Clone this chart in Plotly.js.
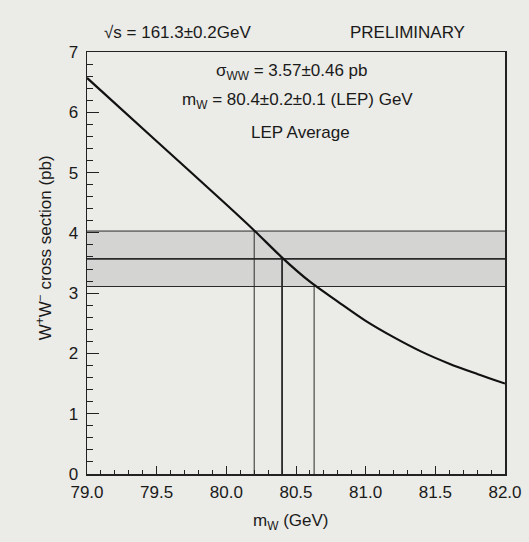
<!DOCTYPE html>
<html>
<head>
<meta charset="utf-8">
<script src="https://cdn.plot.ly/plotly-3.0.1.min.js"></script>
<style>
html,body{margin:0;padding:0;background:#ebebe7;}
#chart{width:529px;height:542px;}
</style>
</head>
<body>
<div id="chart"></div>
<script>
// Cross section vs W mass curve
const massW = [79.0, 79.5, 80.0, 80.2, 80.4, 80.6, 80.8, 81.0, 81.2, 81.4, 81.6, 81.8, 82.0];
const sigmaWW = [6.57, 5.52, 4.47, 4.04, 3.59, 3.19, 2.86, 2.54, 2.27, 2.03, 1.83, 1.66, 1.50];

// Measured cross section and its error
const sigmaMeas = 3.57;
const sigmaErr = 0.46;
const sigmaBand = [sigmaMeas - sigmaErr, sigmaMeas, sigmaMeas + sigmaErr];

// Derived W masses (where the band meets the curve)
const massCross = [80.63, 80.4, 80.2];

// Axis ticks
const xTickVals = [79.0, 79.5, 80.0, 80.5, 81.0, 81.5, 82.0];
const xTickText = ["79.0", "79.5", "80.0", "80.5", "81.0", "81.5", "82.0"];
const yTickVals = [0, 1, 2, 3, 4, 5, 6, 7];

const xRange = [79.0, 82.0];
const yRange = [0, 7];

const traces = [];

// Horizontal band lines
sigmaBand.forEach((s, i) => {
  traces.push({
    x: xRange, y: [s, s], mode: 'lines', type: 'scatter',
    line: {color: '#2a2a2a', width: i === 1 ? 1.8 : 1},
    hoverinfo: 'skip', showlegend: false
  });
});

// Vertical mass lines
massCross.forEach((m, i) => {
  traces.push({
    x: [m, m], y: [0, sigmaBand[i]], mode: 'lines', type: 'scatter',
    line: {color: '#2a2a2a', width: i === 1 ? 1.8 : 1},
    hoverinfo: 'skip', showlegend: false
  });
});

// Curve
traces.push({
  x: massW, y: sigmaWW, mode: 'lines', type: 'scatter',
  line: {color: '#111', width: 2.2, shape: 'spline', smoothing: 0.8},
  showlegend: false
});

const fontFam = 'Liberation Sans, Arial, Helvetica, sans-serif';
const txtColor = '#1a1a1a';

const layout = {
  width: 529, height: 542,
  paper_bgcolor: '#ebebe7',
  plot_bgcolor: '#ebebe7',
  margin: {l: 87, r: 24, t: 52, b: 68},
  font: {family: fontFam, color: txtColor, size: 17},
  showlegend: false,
  xaxis: {
    range: xRange, tickvals: xTickVals, ticktext: xTickText,
    ticks: 'inside', ticklen: 8, tickwidth: 1, tickcolor: '#222',
    minor: {dtick: 0.1, ticks: 'inside', ticklen: 4, tickcolor: '#222', tickwidth: 1},
    showline: true, linecolor: '#222', linewidth: 1.5, mirror: true,
    showgrid: false, zeroline: false,
    ticklabelstandoff: 2,
    tickfont: {size: 17, family: fontFam, color: txtColor}
  },
  yaxis: {
    range: yRange, tickvals: yTickVals,
    ticks: 'inside', ticklen: 12, tickwidth: 1, tickcolor: '#222',
    minor: {dtick: 0.2, ticks: 'inside', ticklen: 6, tickcolor: '#222', tickwidth: 1},
    showline: true, linecolor: '#222', linewidth: 1.5, mirror: true,
    showgrid: false, zeroline: false,
    ticklabelstandoff: 4,
    tickfont: {size: 17, family: fontFam, color: txtColor}
  },
  shapes: [{
    type: 'rect', xref: 'paper', yref: 'y',
    x0: 0, x1: 1, y0: sigmaBand[0], y1: sigmaBand[2],
    fillcolor: '#d4d4d2', line: {width: 0}, layer: 'below'
  }],
  annotations: [
    {text: '√s = 161.3±0.2GeV', xref: 'paper', yref: 'paper', x: 0.035, y: 1.0, yshift: 8, xanchor: 'left', yanchor: 'bottom', showarrow: false, font: {size: 17}},
    {text: 'PRELIMINARY', xref: 'paper', yref: 'paper', x: 0.908, y: 1.0, yshift: 8, xanchor: 'right', yanchor: 'bottom', showarrow: false, font: {size: 17}},
    {text: 'σ<sub>WW</sub> = ' + sigmaMeas.toFixed(2) + '±' + sigmaErr.toFixed(2) + ' pb', xref: 'paper', yref: 'paper', x: 0.49, y: 0.952, xanchor: 'center', yanchor: 'middle', showarrow: false, font: {size: 17}},
    {text: 'm<sub>W</sub> = 80.4±0.2±0.1 (LEP) GeV', xref: 'paper', yref: 'paper', x: 0.503, y: 0.883, xanchor: 'center', yanchor: 'middle', showarrow: false, font: {size: 17}},
    {text: 'LEP Average', xref: 'paper', yref: 'paper', x: 0.51, y: 0.81, xanchor: 'center', yanchor: 'middle', showarrow: false, font: {size: 17}},
    {text: 'm<sub>W</sub> (GeV)', xref: 'paper', yref: 'paper', x: 0.488, y: 0, yshift: -48, xanchor: 'center', yanchor: 'middle', showarrow: false, font: {size: 17}},
    {text: 'W<sup>+</sup>W<sup>−</sup> cross section (pb)', xref: 'paper', yref: 'paper', x: 0, xshift: -43, y: 0.535, xanchor: 'center', yanchor: 'middle', textangle: -90, showarrow: false, font: {size: 17}}
  ]
};

Plotly.newPlot('chart', traces, layout, {displayModeBar: false, staticPlot: true});
</script>
</body>
</html>
